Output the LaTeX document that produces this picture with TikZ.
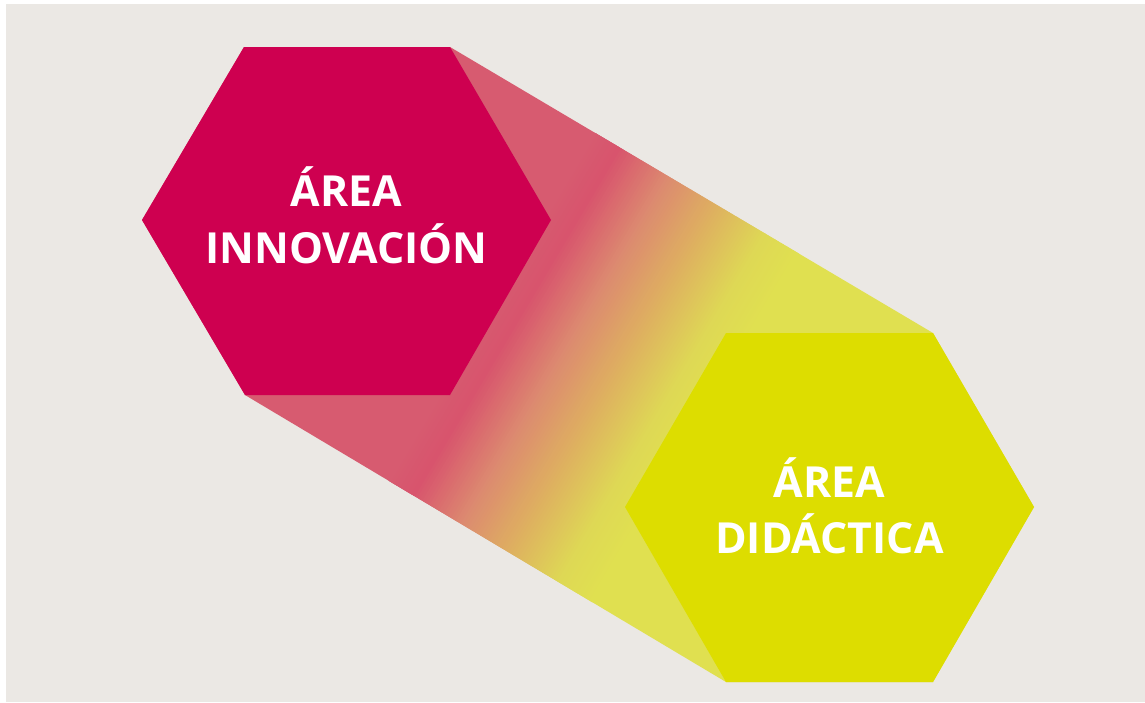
\documentclass[tikz,border=0pt]{standalone}
\usepackage{fontspec}
\setmainfont{Open Sans}
\definecolor{bg}{HTML}{EBE8E4}
\definecolor{hexA}{HTML}{CE0050}
\definecolor{hexB}{HTML}{DDDD00}
\definecolor{cA}{HTML}{D75B70}
\definecolor{cB}{HTML}{D8546D}
\definecolor{cC}{HTML}{DC8A70}
\definecolor{cD}{HTML}{DEB060}
\definecolor{cE}{HTML}{DED855}
\definecolor{cF}{HTML}{E0E050}
\begin{document}
\begin{tikzpicture}[x=0.5pt,y=-0.5pt,
  label/.style={text=white,font=\fontsize{21.4pt}{28.5pt}\selectfont\bfseries,inner sep=0pt,anchor=base}]
\useasboundingbox (0,0) rectangle (1145,702);
\fill[white] (0,0) rectangle (1145,702);
\fill[bg] (6,4) rectangle (1145,702);
% hexagon 1
\coordinate (a1) at (244,47);
\coordinate (a2) at (450,47);
\coordinate (a3) at (551,220);
\coordinate (a4) at (450,395);
\coordinate (a5) at (245,395);
\coordinate (a6) at (142,220);
% hexagon 2
\coordinate (b1) at (726,333);
\coordinate (b2) at (933,333);
\coordinate (b3) at (1034,507);
\coordinate (b4) at (933,682);
\coordinate (b5) at (726,682);
\coordinate (b6) at (625,507);
% gradient band
\begin{scope}
\clip (a1) -- (a2) -- (b2) -- (b3) -- (b4) -- (b5) -- (a5) -- (a6) -- cycle;
\begin{scope}[shift={(346.5,221)},rotate=-30.63]
\fill[cA] (-400,-500) rectangle (200,500);
\foreach \ta/\tb/\ca/\cb in {0.30/0.35/cA/cB,0.35/0.45/cB/cC,0.45/0.55/cC/cD,0.55/0.65/cD/cE,0.65/0.72/cE/cF}{
  \foreach \k in {0,...,19}{
    \pgfmathsetmacro\xa{561.3*(\ta+(\tb-\ta)*\k/20)}
    \pgfmathsetmacro\xb{\xa+561.3*(\tb-\ta)/10}
    \pgfmathsetmacro\p{100*\k/20}
    \fill[\cb!\p!\ca] (\xa,-500) rectangle (\xb,500);
  }
}
\fill[cF] (404.1,-500) rectangle (900,500);
\end{scope}
\end{scope}
\fill[hexA] (a1) -- (a2) -- (a3) -- (a4) -- (a5) -- (a6) -- cycle;
\fill[hexB] (b1) -- (b2) -- (b3) -- (b4) -- (b5) -- (b6) -- cycle;
\node[label] (t1a) at (346.5,206) {ÁREA};
\node[label] (t1b) at (346.5,263) {INNOVACIÓN};
\node[label] (t2a) at (829.5,497) {ÁREA};
\node[label] (t2b) at (829.5,553) {DIDÁCTICA};
\end{tikzpicture}
\end{document}
